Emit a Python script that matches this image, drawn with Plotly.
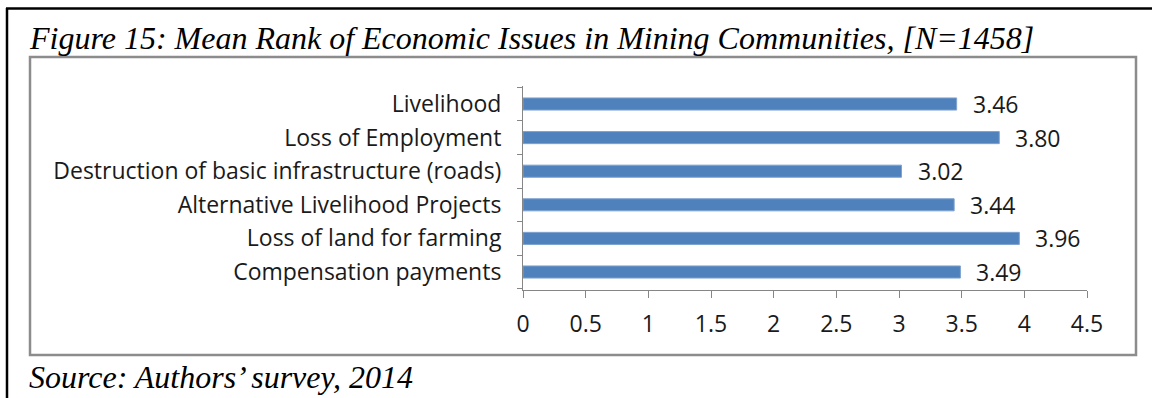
import plotly.graph_objects as go

categories = [
    "Livelihood",
    "Loss of Employment",
    "Destruction of basic infrastructure (roads)",
    "Alternative Livelihood Projects",
    "Loss of land for farming",
    "Compensation payments",
]
mean_rank = [3.46, 3.80, 3.02, 3.44, 3.96, 3.49]
x_ticks = [0, 0.5, 1, 1.5, 2, 2.5, 3, 3.5, 4, 4.5]
x_tick_text = ["0", "0.5", "1", "1.5", "2", "2.5", "3", "3.5", "4", "4.5"]

title_text = "Figure 15: Mean Rank of Economic Issues in Mining Communities, [N=1458]"
source_text = "Source: Authors\u2019 survey, 2014"

W, H = 1152, 398
# plot area in pixels
L, R, T, B = 523, 1087, 86, 290


def px(xp):
    return (xp - L) / (R - L)


def py(yp):
    return (B - yp) / (B - T)


label_font = dict(family="Open Sans, sans-serif", size=23, color="#1a1a1a")
serif_font = dict(family="Liberation Serif, Times New Roman, serif", size=32, color="#000")

fig = go.Figure()
fig.add_trace(
    go.Bar(
        x=mean_rank,
        y=categories,
        orientation="h",
        marker=dict(color="#4F81BD", line=dict(color="#7FA2D0", width=1)),
        width=0.36,
        hoverinfo="x+y",
    )
)

# value labels to the right of each bar
value_labels = [
    dict(x=v, y=c, xref="x", yref="y", text=f"{v:.2f}",
         xanchor="left", yanchor="middle", xshift=14, showarrow=False,
         font=label_font)
    for v, c in zip(mean_rank, categories)
]

fig.update_layout(
    width=W,
    height=H,
    margin=dict(l=L, r=W - R, t=T, b=H - B),
    paper_bgcolor="white",
    plot_bgcolor="white",
    showlegend=False,
    xaxis=dict(
        range=[0, 4.5],
        tickvals=x_ticks,
        ticktext=x_tick_text,
        ticks="outside",
        ticklen=7,
        tickcolor="#868686",
        showline=True,
        linecolor="#868686",
        linewidth=1,
        showgrid=False,
        zeroline=False,
        tickfont=label_font,
        ticklabelstandoff=6,
    ),
    yaxis=dict(
        categoryorder="array",
        categoryarray=categories[::-1],
        ticks="outside",
        tickson="boundaries",
        ticklen=5,
        tickcolor="#868686",
        showline=True,
        linecolor="#868686",
        linewidth=1,
        showgrid=False,
        zeroline=False,
        tickfont=label_font,
        ticklabelstandoff=16,
    ),
    shapes=[
        # chart frame
        dict(type="rect", xref="paper", yref="paper",
             x0=px(30), x1=px(1136), y0=py(355), y1=py(57),
             line=dict(color="#8c8c8c", width=2.5), layer="below"),
        # page border
        dict(type="line", xref="paper", yref="paper",
             x0=px(7), x1=px(7), y0=py(8), y1=py(400),
             line=dict(color="#000", width=2.5)),
        dict(type="line", xref="paper", yref="paper",
             x0=px(6), x1=px(1155), y0=py(8.5), y1=py(8.5),
             line=dict(color="#000", width=2.5)),
    ],
    annotations=value_labels + [
        dict(text=f"<i>{title_text}</i>", xref="paper", yref="paper",
             x=px(27), y=py(38), xanchor="left", yanchor="middle",
             showarrow=False, font=serif_font),
        dict(text=f"<i>{source_text}</i>", xref="paper", yref="paper",
             x=px(27), y=py(377), xanchor="left", yanchor="middle",
             showarrow=False, font=serif_font),
    ],
)

fig.write_html("out.html")
